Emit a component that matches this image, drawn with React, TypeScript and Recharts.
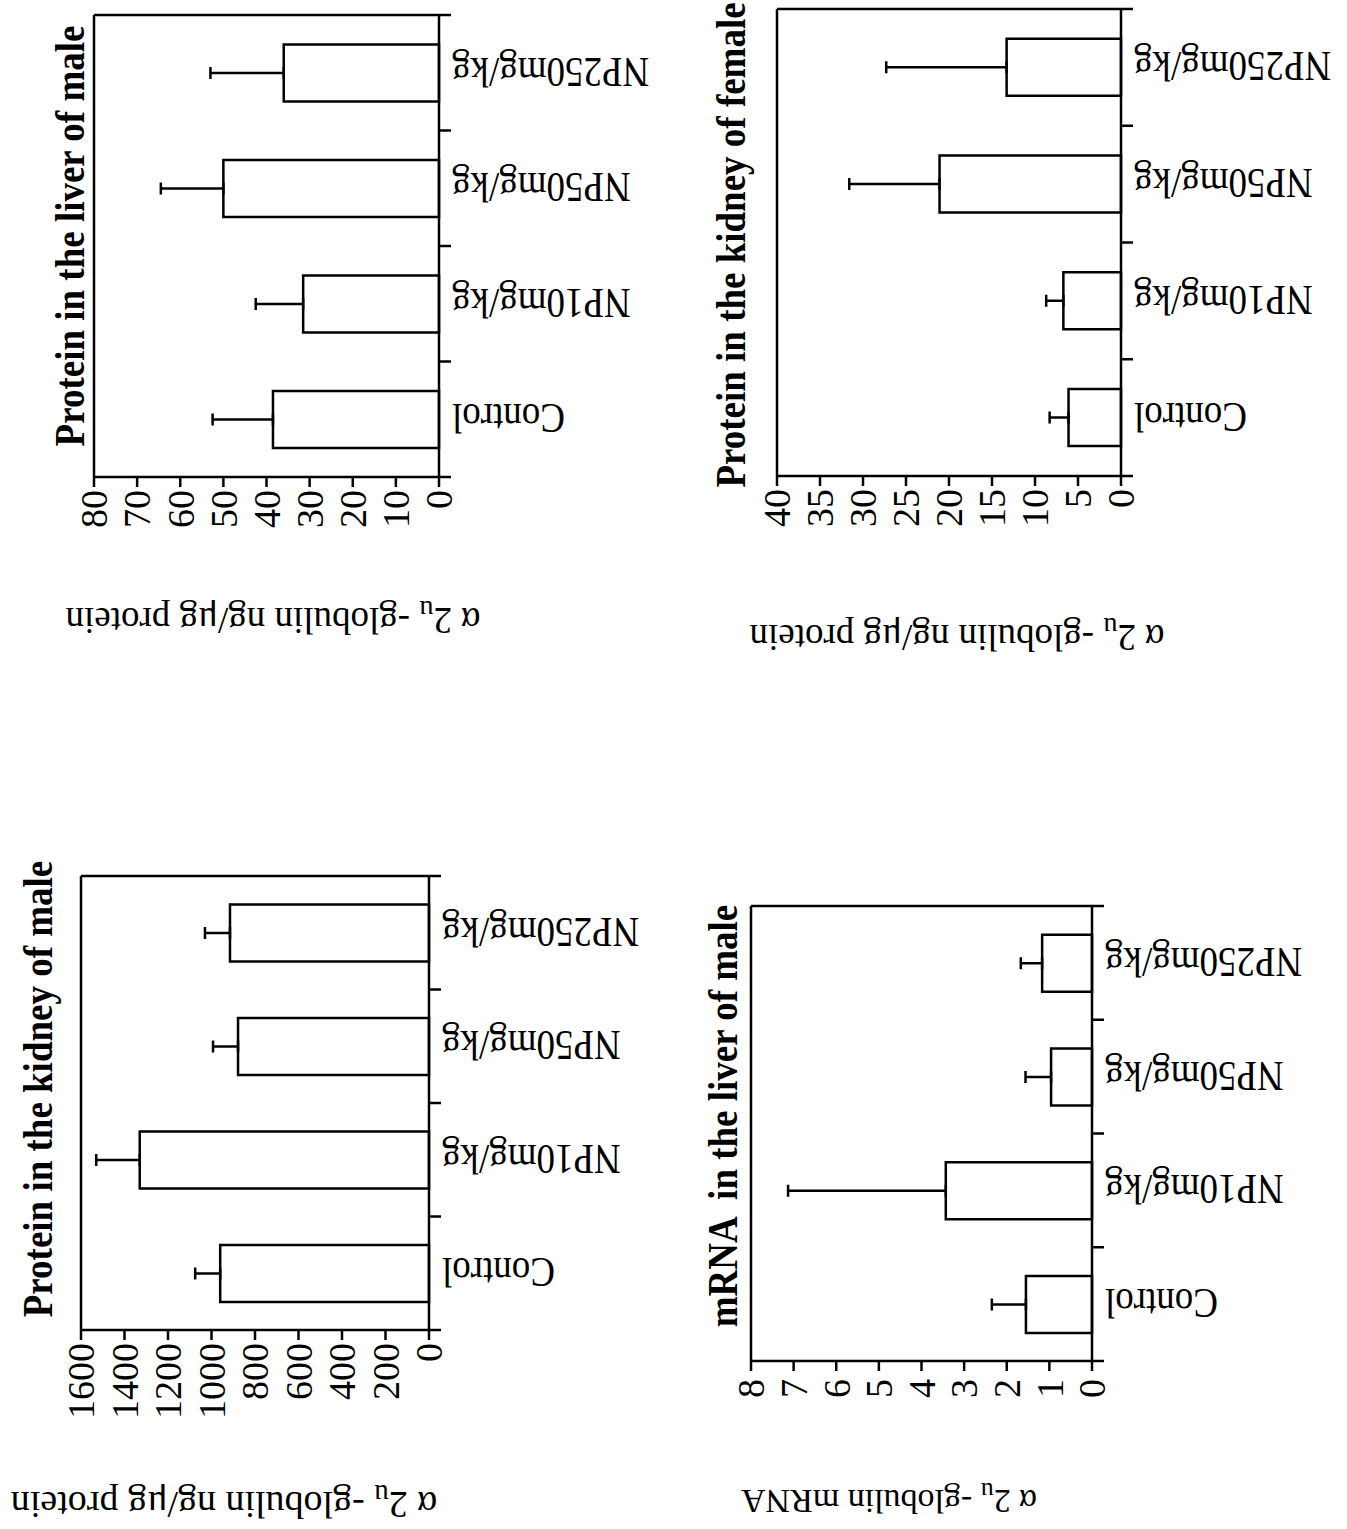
import React from 'react';
import { BarChart, Bar, XAxis, YAxis, ErrorBar } from 'recharts';

// scanned figure: four bar charts printed sideways (rotated 90deg counter-clockwise)

const categories = ['Control', 'NP10mg/kg', 'NP50mg/kg', 'NP250mg/kg'];

const liverMaleValues = [38.5, 31.5, 50, 36];
const liverMaleErrors = [14, 11, 14.5, 17];
const liverMaleTicks = [0, 10, 20, 30, 40, 50, 60, 70, 80];

const kidneyFemaleValues = [6.1, 6.7, 21.1, 13.3];
const kidneyFemaleErrors = [2.2, 2.0, 10.5, 14];
const kidneyFemaleTicks = [0, 5, 10, 15, 20, 25, 30, 35, 40];

const kidneyMaleValues = [960, 1330, 878, 915];
const kidneyMaleErrors = [115, 200, 115, 115];
const kidneyMaleTicks = [0, 200, 400, 600, 800, 1000, 1200, 1400, 1600];

const mrnaValues = [1.55, 3.43, 0.96, 1.17];
const mrnaErrors = [0.8, 3.7, 0.6, 0.5];
const mrnaTicks = [0, 1, 2, 3, 4, 5, 6, 7, 8];

const FONT = "'Liberation Serif', 'Times New Roman', serif";
const M_LEFT = 190;
const M_RIGHT = 20;
const M_TOP = 90;
const M_BOTTOM = 240;
const LINE = 2.5;

interface PanelProps {
  values: number[];
  errors: number[];
  ticks: number[];
  title: string;
  unit: string;
  // plot box on the page (page coords, value max at px0, zero at px1)
  px0: number;
  px1: number;
  py0: number;
  py1: number;
  titleBase: number;
  titleMid: number;
  labelBase: number;
  labelMid: number;
  labelSize?: number;
  tickGap?: number;
}

function ValueTick(props: any) {
  const { x, y, payload } = props;
  return (
    <text x={x} y={y} dy="0.35em" textAnchor="end" fontSize={38} fontFamily={FONT} fill="#000">
      {payload.value}
    </text>
  );
}

function CategoryTick(props: any) {
  const { x, y, payload, index, band } = props;
  const edge = x - band / 2;
  return (
    <g>
      <line x1={edge} y1={y} x2={edge} y2={y + 12} stroke="#000" strokeWidth={LINE} />
      {index === categories.length - 1 && (
        <line x1={x + band / 2} y1={y} x2={x + band / 2} y2={y + 12} stroke="#000" strokeWidth={LINE} />
      )}
      <g transform={`translate(${x},${y + 13})`}>
        <text
          transform="rotate(-90) scale(1,1.15)"
          textAnchor="end"
          dy="0.35em"
          fontSize={37}
          fontFamily={FONT}
          fill="#000"
        >
          {payload.value}
        </text>
      </g>
    </g>
  );
}

function Panel(p: PanelProps) {
  const plotW = p.py1 - p.py0;
  const plotH = p.px1 - p.px0;
  const W = M_LEFT + plotW + M_RIGHT;
  const H = M_TOP + plotH + M_BOTTOM;
  const L = p.px0 - M_TOP;
  const T = p.py1 + M_LEFT;
  const band = plotW / categories.length;
  const labelSize = p.labelSize ?? 37;

  const data = categories.map((name, i) => ({
    name,
    value: p.values[i],
    err: [0, p.errors[i]],
  }));

  return (
    <div
      style={{
        position: 'absolute',
        left: L,
        top: T,
        width: W,
        height: H,
        transformOrigin: '0 0',
        transform: 'rotate(-90deg)',
      }}
    >
      <BarChart width={W} height={H} data={data} margin={{ top: M_TOP, right: M_RIGHT, bottom: 0, left: 0 }}>
        <XAxis
          dataKey="name"
          height={M_BOTTOM}
          tickSize={0}
          tickMargin={0}
          interval={0}
          axisLine={{ stroke: '#000', strokeWidth: LINE }}
          tick={(t: any) => <CategoryTick {...t} band={band} />}
        />
        <YAxis
          width={M_LEFT}
          domain={[0, p.ticks[p.ticks.length - 1]]}
          ticks={p.ticks}
          interval={0}
          tickSize={10}
          tickMargin={p.tickGap ?? 3}
          axisLine={{ stroke: '#000', strokeWidth: LINE }}
          tickLine={{ stroke: '#000', strokeWidth: LINE }}
          tick={<ValueTick />}
        />
        <Bar dataKey="value" fill="#fff" stroke="#000" strokeWidth={LINE} barSize={57} isAnimationActive={false}>
          <ErrorBar dataKey="err" width={6} stroke="#000" strokeWidth={LINE} isAnimationActive={false} />
        </Bar>
      </BarChart>
      <svg width={W} height={H} style={{ position: 'absolute', left: 0, top: 0, overflow: 'visible' }}>
        {/* box around the plot: far edges of the frame */}
        <line x1={M_LEFT} y1={M_TOP} x2={M_LEFT + plotW} y2={M_TOP} stroke="#000" strokeWidth={LINE} />
        <line x1={M_LEFT + plotW} y1={M_TOP} x2={M_LEFT + plotW} y2={M_TOP + plotH} stroke="#000" strokeWidth={LINE} />
        <text
          transform={`translate(${T - p.titleMid},${p.titleBase - L}) scale(1,1.12)`}
          textAnchor="middle"
          fontSize={37}
          fontWeight="bold"
          fontFamily={FONT}
          fill="#000"
          style={{ whiteSpace: 'pre' }}
        >
          {p.title}
        </text>
        <text
          transform={`translate(${T - p.labelBase},${p.labelMid - L}) rotate(-90)`}
          textAnchor="middle"
          fontSize={labelSize}
          fontFamily={FONT}
          fill="#000"
        >
          α 2
          <tspan fontSize={labelSize * 0.76} dy={7}>u</tspan>
          <tspan dy={-7}>{' -globulin ' + p.unit}</tspan>
        </text>
      </svg>
    </div>
  );
}

export default function App() {
  return (
    <div
      style={{
        position: 'absolute',
        left: 0,
        top: 0,
        width: 1347,
        height: 1529,
        overflow: 'hidden',
        background: '#fff',
      }}
    >
      <Panel
        values={liverMaleValues}
        errors={liverMaleErrors}
        ticks={liverMaleTicks}
        title="Protein in the liver of male"
        unit="ng/μg protein"
        px0={94}
        px1={439}
        py0={15}
        py1={477}
        titleBase={84}
        titleMid={236}
        labelBase={608}
        labelMid={273}
      />
      <Panel
        values={kidneyFemaleValues}
        errors={kidneyFemaleErrors}
        ticks={kidneyFemaleTicks}
        title="Protein in the kidney of female"
        unit="ng/μg protein"
        px0={777}
        px1={1121}
        py0={9}
        py1={476}
        titleBase={745}
        titleMid={245}
        labelBase={625}
        labelMid={957}
      />
      <Panel
        values={kidneyMaleValues}
        errors={kidneyMaleErrors}
        ticks={kidneyMaleTicks}
        title="Protein in the kidney of male"
        unit="ng/μg protein"
        px0={81}
        px1={429}
        py0={876}
        py1={1330}
        titleBase={52}
        titleMid={1089}
        labelBase={1492}
        labelMid={224}
        labelSize={38}
      />
      <Panel
        values={mrnaValues}
        errors={mrnaErrors}
        ticks={mrnaTicks}
        title="mRNA  in the liver of male"
        unit="mRNA"
        px0={751}
        px1={1092}
        py0={906}
        py1={1361}
        titleBase={737}
        titleMid={1116}
        labelBase={1490}
        labelMid={889}
        labelSize={34}
        tickGap={8}
      />
    </div>
  );
}
